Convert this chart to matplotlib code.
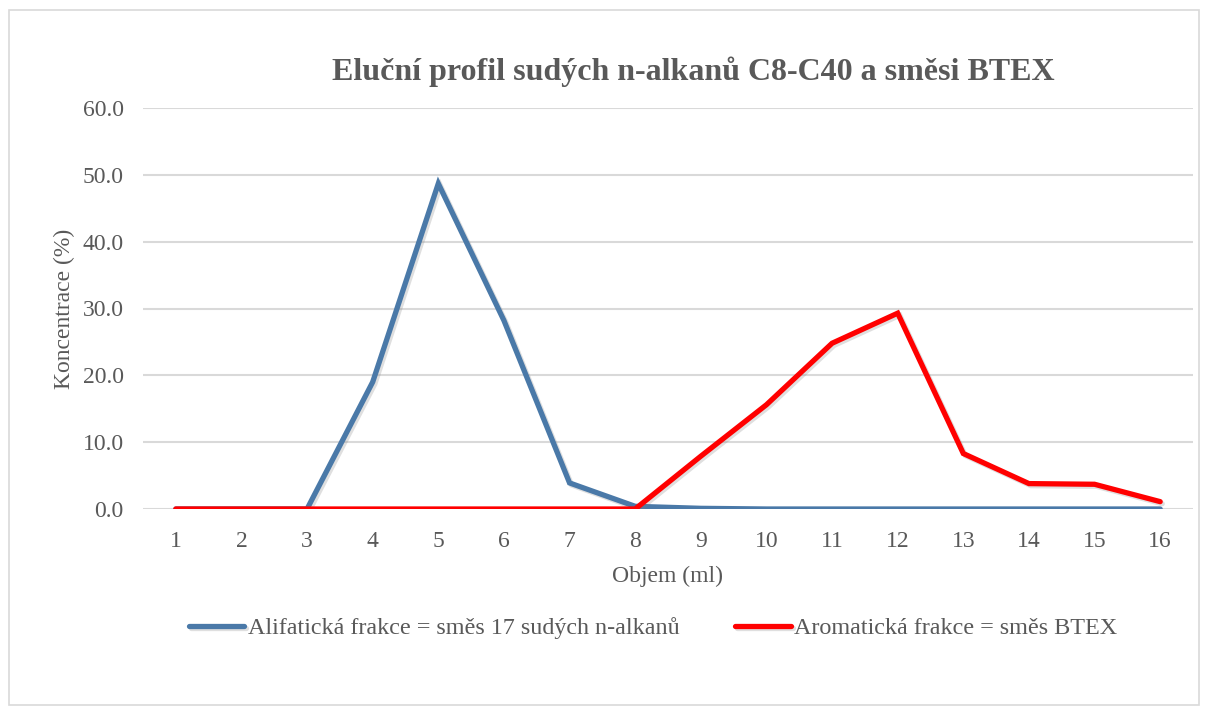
import matplotlib
matplotlib.use("Agg")
import matplotlib.pyplot as plt
import matplotlib.patheffects as pe
from matplotlib.patches import Rectangle

# ---------- Data ----------
objem = [1, 2, 3, 4, 5, 6, 7, 8, 9, 10, 11, 12, 13, 14, 15, 16]
alifaticka = [0.0, 0.0, 0.0, 19.0, 48.7, 28.2, 3.9, 0.4, 0.1, 0.0, 0.0, 0.0, 0.0, 0.0, 0.0, 0.0]
aromaticka = [0.0, 0.0, 0.0, 0.0, 0.0, 0.0, 0.0, 0.0, 7.9, 15.6, 24.8, 29.3, 8.3, 3.8, 3.7, 1.1]
y_ticks = [0, 10, 20, 30, 40, 50, 60]

label_ali = "Alifatická frakce = směs 17 sudých n-alkanů"
label_aro = "Aromatická frakce = směs BTEX"

plt.rcParams["font.family"] = ["Liberation Serif", "DejaVu Serif"]
text_col = "#595959"

fig = plt.figure(figsize=(12.05, 7.13), dpi=100)
fig.patches.append(Rectangle((9 / 1205, 8 / 713), 1190 / 1205, 695 / 713,
                             transform=fig.transFigure, fill=False,
                             edgecolor="#d9d9d9", linewidth=1.2))

ax = fig.add_axes([143 / 1205, 1 - 509 / 713, 1050 / 1205, 401 / 713])

shadow = [pe.SimpleLineShadow(offset=(1.5, -1.5), alpha=0.25, shadow_color="gray"), pe.Normal()]
ax.plot(objem, alifaticka, color="#4a79a8", linewidth=3.8, label=label_ali,
        solid_capstyle="round", solid_joinstyle="miter", path_effects=shadow, zorder=3)
ax.plot(objem, aromaticka, color="#ff0000", linewidth=3.8, label=label_aro,
        solid_capstyle="round", solid_joinstyle="miter", path_effects=shadow, zorder=4)

ax.set_xlim(0.5, 16.5)
ax.set_ylim(0, 60)
ax.set_xticks(objem)
ax.set_yticks(y_ticks)
ax.set_yticklabels([f"{v:.1f}" for v in y_ticks])
ax.grid(axis="y", color="#d9d9d9", linewidth=1.5)
ax.set_axisbelow(True)
for s in ax.spines.values():
    s.set_visible(False)
ax.tick_params(length=0, labelsize=17, colors=text_col, pad=14)
ax.tick_params(axis="x", pad=16)

ax.set_xlabel("Objem (ml)", fontsize=17, color=text_col, labelpad=10)
ax.set_ylabel("Koncentrace (%)", fontsize=17, color=text_col, labelpad=5)

fig.text(693 / 1205, 1 - 72 / 713, "Eluční profil sudých n-alkanů C8-C40 a směsi BTEX",
         ha="center", va="center", fontsize=23, fontweight="bold", color=text_col)

fig.legend(loc="center", bbox_to_anchor=(653 / 1205, 1 - 628 / 713), ncol=2,
           frameon=False, fontsize=17.4, labelcolor=text_col, handlelength=2.3,
           handletextpad=0.15, columnspacing=2.3)

fig.savefig("out.png", dpi=100)
